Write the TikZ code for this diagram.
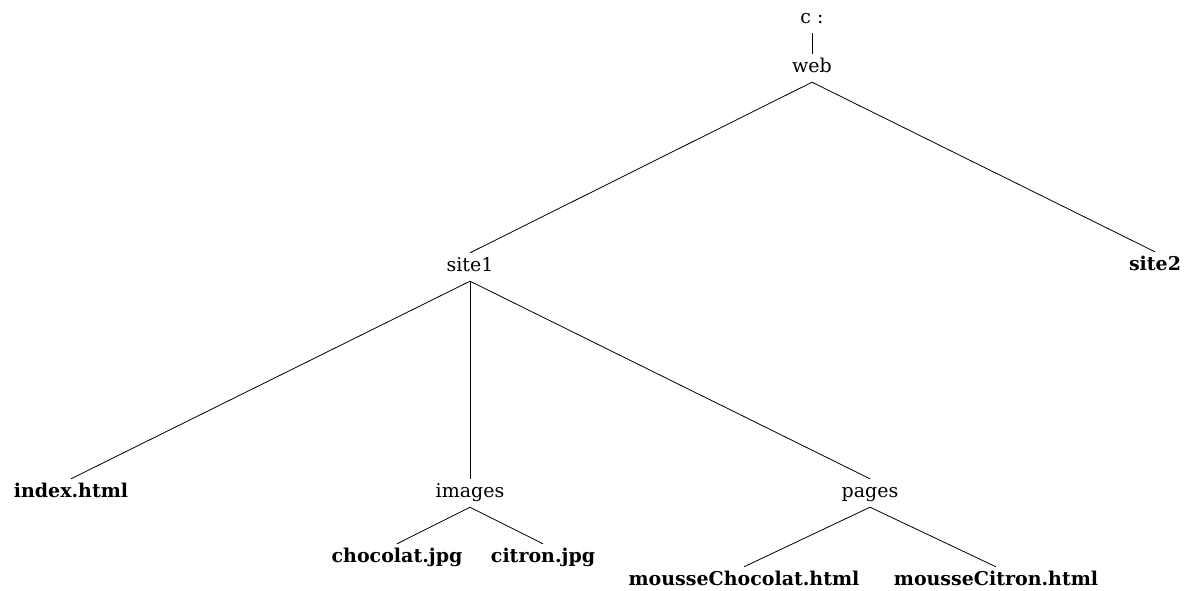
\documentclass[tikz,border=0pt]{standalone}
\usepackage{fontspec}
\setmainfont{DejaVu Serif}
\tikzset{
  dir/.style={anchor=base, font=\fontsize{19}{23}\selectfont,
    text height=12pt, text depth=4pt, inner xsep=2pt, inner ysep=6pt},
  file/.style={dir, font=\fontsize{19}{23}\selectfont\bfseries},
  branch/.style={draw=black, line width=0.8pt}
}
\begin{document}
\begin{tikzpicture}[x=1pt,y=-1pt]
  \useasboundingbox (0,0) rectangle (1189,590);
  % directories
  \node[dir]  (c)      at (812,23)  {c :};
  \node[dir]  (web)    at (812,72)  {web};
  \node[dir]  (site1)  at (470,271) {site1};
  \node[file] (site2)  at (1155,270) {site2};
  \node[file] (index)  at (71,497)  {index.html};
  \node[dir]  (images) at (470,497) {images};
  \node[dir]  (pages)  at (870,497) {pages};
  \node[file] (choco)  at (397,562) {chocolat.jpg};
  \node[file] (citron) at (543,562) {citron.jpg};
  \node[file] (mchoco) at (744,585) {mousseChocolat.html};
  \node[file] (mcitron) at (996,585) {mousseCitron.html};
  % tree branches
  \draw[branch] (c.south) -- (web.north);
  \draw[branch] (web.south) -- (site1.north);
  \draw[branch] (web.south) -- (site2.north);
  \draw[branch] (site1.south) -- (index.north);
  \draw[branch] (site1.south) -- (images.north);
  \draw[branch] (site1.south) -- (pages.north);
  \draw[branch] (images.south) -- (choco.north);
  \draw[branch] (images.south) -- (citron.north);
  \draw[branch] (pages.south) -- (mchoco.north);
  \draw[branch] (pages.south) -- (mcitron.north);
\end{tikzpicture}
\end{document}
